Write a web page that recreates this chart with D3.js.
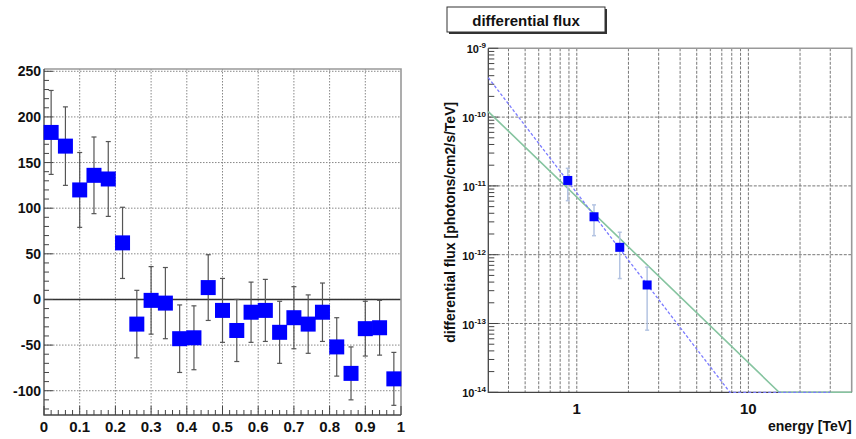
<!DOCTYPE html>
<html>
<head>
<meta charset="utf-8">
<script src="https://cdn.jsdelivr.net/npm/d3@7"></script>
<style>
    body { margin: 0; background: #fff; }
    text { font-family: 'Liberation Sans', Arial, sans-serif; font-weight: bold; fill: #111; }
</style>
</head>
<body>
<svg id="chart" width="856" height="439"></svg>
<script>
'use strict';

// left panel: histogram with errors
const binCenters = [0.02, 0.06, 0.10, 0.14, 0.18, 0.22, 0.26, 0.30, 0.34, 0.38, 0.42, 0.46, 0.50,
    0.54, 0.58, 0.62, 0.66, 0.70, 0.74, 0.78, 0.82, 0.86, 0.90, 0.94, 0.98];
const binValues = [183, 168, 120, 136, 132, 62, -27, -1, -4, -43, -42, 13, -12,
    -34, -14, -12, -36, -20, -27, -14, -52, -81, -32, -31, -87];
const binErrors = [46, 43, 41, 42, 41, 39, 37, 37, 39, 37, 35, 36, 35,
    34, 33, 34, 34, 34, 32, 32, 32, 29, 30, 30, 29];
const leftXTicks = [0, 0.1, 0.2, 0.3, 0.4, 0.5, 0.6, 0.7, 0.8, 0.9, 1];
const leftYTicks = [-100, -50, 0, 50, 100, 150, 200, 250];

// right panel: differential flux
const energies = [0.886, 1.26, 1.78, 2.57];
const fluxValues = [1.2e-11, 3.56e-12, 1.28e-12, 3.63e-13];
const fluxHigh = [1.8e-11, 5.3e-12, 2.12e-12, 6.6e-13];
const fluxLow = [6.1e-12, 1.89e-12, 4.5e-13, 8.0e-14];
const greenFit = [[0.305, 1.2e-10], [15.1, 1e-14], [40, 1e-14]];
const blueFit = [[0.305, 3.74e-10], [7.8, 1e-14], [30, 1e-14]];
const energyGrid = [0.4, 0.5, 0.6, 0.7, 0.8, 0.9, 1, 2, 3, 4, 5, 6, 7, 8, 9, 10, 20, 30];
const energyLabels = [1, 10];
const fluxDecades = [-14, -13, -12, -11, -10, -9];

const svg = d3.select('#chart');

function drawLeft()
{
    const L = 44, R = 401, T = 69, B = 415;
    const x = d3.scaleLinear().domain([0, 1]).range([L, R]);
    const y = d3.scaleLinear().domain([-126.6, 252.5]).range([B, T]);
    const g = svg.append('g');

    // grid
    g.selectAll('.gx').data(leftXTicks.slice(1, -1)).enter().append('line')
        .attr('x1', d => x(d)).attr('x2', d => x(d)).attr('y1', T).attr('y2', B)
        .attr('stroke', '#888').attr('stroke-width', 1).attr('stroke-dasharray', '1.5,1.5');
    g.selectAll('.gy').data(leftYTicks).enter().append('line')
        .attr('x1', L).attr('x2', R).attr('y1', d => y(d)).attr('y2', d => y(d))
        .attr('stroke', '#888').attr('stroke-width', 1).attr('stroke-dasharray', '1.5,1.5');

    // zero line
    g.append('line').attr('x1', L).attr('x2', R).attr('y1', y(0)).attr('y2', y(0))
        .attr('stroke', '#333').attr('stroke-width', 1.4);

    // frame
    g.append('path').attr('d', `M${L},${T}H${R}V${B}`).attr('fill', 'none')
        .attr('stroke', '#999').attr('stroke-width', 1.6);
    g.append('path').attr('d', `M${L},${T}V${B}H${R}`).attr('fill', 'none')
        .attr('stroke', '#444').attr('stroke-width', 1.3);

    // ticks
    const xMinor = d3.range(0, 1.0001, 0.02);
    g.selectAll('.tx').data(xMinor).enter().append('line')
        .attr('x1', d => x(d)).attr('x2', d => x(d))
        .attr('y1', B).attr('y2', (d, i) => B - (i % 5 === 0 ? 9 : 5))
        .attr('stroke', '#444').attr('stroke-width', 1);
    const yMinor = d3.range(-120, 251, 10);
    g.selectAll('.ty').data(yMinor).enter().append('line')
        .attr('y1', d => y(d)).attr('y2', d => y(d))
        .attr('x1', L).attr('x2', d => L + (d % 50 === 0 ? 9 : 5))
        .attr('stroke', '#444').attr('stroke-width', 1);

    g.selectAll('.lx').data(leftXTicks).enter().append('text')
        .attr('x', d => x(d)).attr('y', 432).attr('text-anchor', 'middle')
        .attr('font-size', 15).text(d => d);
    g.selectAll('.ly').data(leftYTicks).enter().append('text')
        .attr('x', 41).attr('y', d => y(d) + 5).attr('text-anchor', 'end')
        .attr('font-size', 14).text(d => d);

    // error bars
    const pts = binCenters.map((c, i) => ({ c: c, v: binValues[i], e: binErrors[i] }));
    const eb = g.selectAll('.eb').data(pts).enter().append('g').attr('stroke', '#555').attr('stroke-width', 1.2);
    eb.append('line').attr('x1', d => x(d.c)).attr('x2', d => x(d.c))
        .attr('y1', d => y(d.v + d.e)).attr('y2', d => y(d.v - d.e));
    eb.append('line').attr('x1', d => x(d.c) - 2.5).attr('x2', d => x(d.c) + 2.5)
        .attr('y1', d => y(d.v + d.e)).attr('y2', d => y(d.v + d.e));
    eb.append('line').attr('x1', d => x(d.c) - 2.5).attr('x2', d => x(d.c) + 2.5)
        .attr('y1', d => y(d.v - d.e)).attr('y2', d => y(d.v - d.e));

    g.selectAll('.sq').data(pts).enter().append('rect')
        .attr('x', d => x(d.c) - 7.5).attr('y', d => y(d.v) - 7.5)
        .attr('width', 15).attr('height', 15).attr('fill', '#0000ff');
}

function drawRight()
{
    const L = 488.3, R = 851.7, T = 48.3, B = 392.3;
    const x = d3.scaleLog().domain([0.305, 40]).range([L, R]);
    const y = d3.scaleLog().domain([1e-14, 1e-9]).range([B, T]);
    const g = svg.append('g');

    // title box
    g.append('rect').attr('x', 449).attr('y', 9).attr('width', 158).attr('height', 25).attr('fill', '#333');
    g.append('rect').attr('x', 447).attr('y', 7).attr('width', 158).attr('height', 25)
        .attr('fill', '#fff').attr('stroke', '#333').attr('stroke-width', 1);
    g.append('text').attr('x', 526).attr('y', 26).attr('text-anchor', 'middle')
        .attr('font-size', 15).text('differential flux');

    // grid
    g.selectAll('.gx').data(energyGrid).enter().append('line')
        .attr('x1', d => x(d)).attr('x2', d => x(d)).attr('y1', T).attr('y2', B)
        .attr('stroke', '#777').attr('stroke-width', 1).attr('stroke-dasharray', '3,1.5');
    g.selectAll('.gy').data(fluxDecades.slice(1, -1)).enter().append('line')
        .attr('x1', L).attr('x2', R).attr('y1', d => y(Math.pow(10, d))).attr('y2', d => y(Math.pow(10, d)))
        .attr('stroke', '#777').attr('stroke-width', 1).attr('stroke-dasharray', '3,1.5');

    // frame
    g.append('path').attr('d', `M${L},${T}H${R}V${B}`).attr('fill', 'none')
        .attr('stroke', '#999').attr('stroke-width', 1.6);
    g.append('path').attr('d', `M${L},${T}V${B}H${R}`).attr('fill', 'none')
        .attr('stroke', '#444').attr('stroke-width', 1.3);

    // y ticks, major and minor
    const yTicks = [];
    fluxDecades.forEach(p => {
        for (let m = 1; m < 10; m++)
        {
            const v = m * Math.pow(10, p);
            if (v <= 1.0001e-9) yTicks.push({ v: v, major: m === 1 });
        }
    });
    g.selectAll('.ty').data(yTicks).enter().append('line')
        .attr('y1', d => y(d.v)).attr('y2', d => y(d.v))
        .attr('x1', L).attr('x2', d => L + (d.major ? 10 : 6))
        .attr('stroke', '#444').attr('stroke-width', 1);

    const lab = g.selectAll('.ly').data(fluxDecades).enter().append('text')
        .attr('x', 486).attr('y', d => y(Math.pow(10, d)) + 5).attr('text-anchor', 'end')
        .attr('font-size', 11);
    lab.append('tspan').text('10');
    lab.append('tspan').attr('font-size', 8).attr('dy', -5).text(d => d);

    g.selectAll('.lx').data(energyLabels).enter().append('text')
        .attr('x', d => x(d)).attr('y', 414).attr('text-anchor', 'middle')
        .attr('font-size', 15).text(d => d);

    g.append('text').attr('x', R).attr('y', 431).attr('text-anchor', 'end')
        .attr('font-size', 14).text('energy [TeV]');
    g.append('text').attr('transform', `translate(455,${(T + B) / 2 + 2}) rotate(-90)`)
        .attr('text-anchor', 'middle').attr('font-size', 14)
        .text('differential flux [photons/cm2/s/TeV]');

    // fits
    const line = d3.line().x(d => x(d[0])).y(d => y(d[1]));
    g.append('path').datum(greenFit).attr('d', line).attr('fill', 'none')
        .attr('stroke', '#86c4a0').attr('stroke-width', 1.6);
    g.append('path').datum(blueFit).attr('d', line).attr('fill', 'none')
        .attr('stroke', '#7b7bff').attr('stroke-width', 1.3).attr('stroke-dasharray', '3,2');

    // points with errors
    const pts = energies.map((e, i) => ({ e: e, v: fluxValues[i], hi: fluxHigh[i], lo: fluxLow[i] }));
    const eb = g.selectAll('.eb').data(pts).enter().append('g')
        .attr('stroke', '#b4c4e2').attr('stroke-width', 1.5);
    eb.append('line').attr('x1', d => x(d.e)).attr('x2', d => x(d.e))
        .attr('y1', d => y(d.hi)).attr('y2', d => y(d.lo));
    eb.append('line').attr('x1', d => x(d.e) - 2).attr('x2', d => x(d.e) + 2)
        .attr('y1', d => y(d.hi)).attr('y2', d => y(d.hi));
    eb.append('line').attr('x1', d => x(d.e) - 2).attr('x2', d => x(d.e) + 2)
        .attr('y1', d => y(d.lo)).attr('y2', d => y(d.lo));

    g.selectAll('.sq').data(pts).enter().append('rect')
        .attr('x', d => x(d.e) - 4.5).attr('y', d => y(d.v) - 4.5)
        .attr('width', 9).attr('height', 9).attr('fill', '#0000ff');
}

drawLeft();
drawRight();
</script>
</body>
</html>
